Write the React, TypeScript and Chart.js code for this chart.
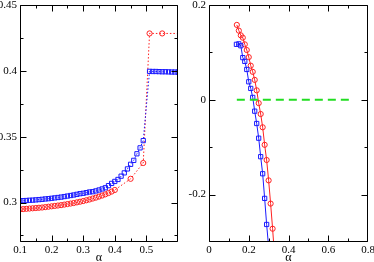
import React, { useEffect, useRef } from "react";
import { Chart, registerables } from "chart.js";
Chart.register(...registerables);

// ---------- Left panel data ----------
const leftRedAlpha = [
  0.1, 0.11, 0.12, 0.13, 0.14, 0.15, 0.16, 0.17, 0.18, 0.19, 0.2, 0.21, 0.22, 0.23, 0.24, 0.25,
  0.26, 0.27, 0.28, 0.29, 0.3, 0.31, 0.32, 0.33, 0.34, 0.35, 0.36, 0.37, 0.38, 0.39, 0.4,
  0.45, 0.49, 0.51, 0.55, 0.6,
];
const leftRedValue = [
  0.2948, 0.295, 0.2952, 0.2954, 0.2956, 0.2958, 0.296, 0.2962, 0.2965, 0.2968, 0.2971, 0.2974,
  0.2977, 0.298, 0.2984, 0.2988, 0.2992, 0.2996, 0.3001, 0.3006, 0.3011, 0.3017, 0.3023, 0.303,
  0.3037, 0.3045, 0.3053, 0.3062, 0.3072, 0.3083, 0.3095,
  0.318, 0.33, 0.4284, 0.4284, 0.4284,
];
const leftBlueAlpha = [
  0.1, 0.11, 0.12, 0.13, 0.14, 0.15, 0.16, 0.17, 0.18, 0.19, 0.2, 0.21, 0.22, 0.23, 0.24, 0.25,
  0.26, 0.27, 0.28, 0.29, 0.3, 0.31, 0.32, 0.33, 0.34, 0.35, 0.36, 0.37, 0.38, 0.39, 0.4, 0.41,
  0.42, 0.43, 0.44, 0.45, 0.46, 0.47, 0.48, 0.49,
  0.51, 0.52, 0.53, 0.54, 0.55, 0.56, 0.57, 0.58, 0.59, 0.6,
];
const leftBlueValue = [
  0.3013, 0.3014, 0.3015, 0.3017, 0.3018, 0.302, 0.3022, 0.3024, 0.3027, 0.3029, 0.3032, 0.3035,
  0.3038, 0.3041, 0.3045, 0.3049, 0.3053, 0.3057, 0.3062, 0.3067, 0.307, 0.3075, 0.308, 0.3082,
  0.3088, 0.3095, 0.3103, 0.3112, 0.3128, 0.3145, 0.316, 0.3175, 0.32, 0.3225, 0.3255, 0.329,
  0.332, 0.337, 0.3415, 0.347,
  0.3996, 0.3995, 0.3995, 0.3994, 0.3993, 0.3993, 0.3992, 0.3991, 0.3991, 0.399,
];

// ---------- Right panel data ----------
const rightRedAlpha = [
  0.14, 0.15, 0.16, 0.17, 0.18, 0.19, 0.2, 0.21, 0.22, 0.23, 0.24, 0.25, 0.26, 0.27, 0.28, 0.29,
  0.3, 0.31, 0.32, 0.33,
];
const rightRedValue = [
  0.158, 0.146, 0.136, 0.131, 0.117, 0.105, 0.09, 0.072, 0.059, 0.042, 0.02, -0.007, -0.03,
  -0.058, -0.095, -0.127, -0.17, -0.219, -0.272, -0.33,
];
const rightBlueAlpha = [
  0.138, 0.15, 0.16, 0.17, 0.18, 0.19, 0.2, 0.21, 0.22, 0.23, 0.24, 0.25, 0.26, 0.27, 0.28, 0.29,
  0.3,
];
const rightBlueValue = [
  0.117, 0.118, 0.114, 0.089, 0.081, 0.064, 0.038, 0.024, 0.005, -0.024, -0.05, -0.081, -0.12,
  -0.156, -0.208, -0.263, -0.31,
];
const rightGreenAlpha = [0.14, 0.71];
const rightGreenValue = [0, 0];

// ---------- Axes / ticks ----------
const leftXRange = [0.1, 0.6];
const leftYRange = [0.27, 0.45];
const leftXMajor = [0.1, 0.2, 0.3, 0.4, 0.5, 0.6];
const leftXMinor = [0.15, 0.25, 0.35, 0.45, 0.55];
const leftXLabels = ["0.1", "0.2", "0.3", "0.4", "0.5"];
const leftYMajor = [0.3, 0.35, 0.4, 0.45];
const leftYMinor = [0.275, 0.325, 0.375, 0.425];
const leftYLabels = ["0.3", "0.35", "0.4", "0.45"];

const rightXRange = [0, 0.8];
const rightYRange = [-0.3, 0.2];
const rightXMajor = [0, 0.2, 0.4, 0.6, 0.8];
const rightXMinor = [0.1, 0.3, 0.5, 0.7];
const rightXLabels = ["0", "0.2", "0.4", "0.6", "0.8"];
const rightYMajor = [-0.2, 0, 0.2];
const rightYMinor = [-0.3, -0.1, 0.1];
const rightYLabels = ["-0.2", "0", "0.2"];

const axisTitle = "α";

const RED = "#ff2020";
const BLUE = "#1a1aff";
const GREEN = "#22dd22";
const FONT = '"Liberation Serif", "Times New Roman", serif';

const pts = (xs: number[], ys: number[]) => xs.map((x, i) => ({ x, y: ys[i] }));

type FrameCfg = {
  xMajor: number[];
  xMinor: number[];
  yMajor: number[];
  yMinor: number[];
  xLabels: string[];
  yLabels: string[];
  title: string;
};

function framePlugin(cfg: FrameCfg) {
  return {
    id: "frame",
    afterDraw(chart: any) {
      const { ctx, chartArea } = chart;
      const { left, right, top, bottom } = chartArea;
      const xs = chart.scales.x;
      const ys = chart.scales.y;
      ctx.save();
      ctx.strokeStyle = "#000";
      ctx.lineWidth = 1;
      const L = left + 0.5;
      const R = right - 0.5;
      const T = top + 0.5;
      const B = bottom - 0.5;
      ctx.beginPath();
      ctx.rect(L, T, R - L, B - T);
      ctx.stroke();
      const xTick = (v: number, len: number) => {
        const p = Math.round(xs.getPixelForValue(v)) + 0.5;
        const px = Math.min(Math.max(p, L), R);
        ctx.beginPath();
        ctx.moveTo(px, B);
        ctx.lineTo(px, B - len);
        ctx.moveTo(px, T);
        ctx.lineTo(px, T + len);
        ctx.stroke();
      };
      const yTick = (v: number, len: number) => {
        const p = Math.round(ys.getPixelForValue(v)) + 0.5;
        const py = Math.min(Math.max(p, T), B);
        ctx.beginPath();
        ctx.moveTo(L, py);
        ctx.lineTo(L + len, py);
        ctx.moveTo(R, py);
        ctx.lineTo(R - len, py);
        ctx.stroke();
      };
      cfg.xMajor.forEach((v) => xTick(v, 6));
      cfg.xMinor.forEach((v) => xTick(v, 3));
      cfg.yMajor.forEach((v) => yTick(v, 6));
      cfg.yMinor.forEach((v) => yTick(v, 3));

      ctx.fillStyle = "#000";
      ctx.font = `11px ${FONT}`;
      ctx.textAlign = "center";
      ctx.textBaseline = "alphabetic";
      cfg.xLabels.forEach((s) => {
        ctx.fillText(s, xs.getPixelForValue(parseFloat(s)), bottom + 11);
      });
      ctx.textAlign = "right";
      ctx.textBaseline = "middle";
      cfg.yLabels.forEach((s) => {
        ctx.fillText(s, left - 3, ys.getPixelForValue(parseFloat(s)));
      });
      ctx.font = `12px ${FONT}`;
      ctx.textAlign = "center";
      ctx.textBaseline = "alphabetic";
      ctx.fillText(cfg.title, (left + right) / 2, bottom + 19);
      ctx.restore();
    },
  };
}

function baseScales(xr: number[], yr: number[]) {
  return {
    x: { type: "linear", min: xr[0], max: xr[1], display: false },
    y: { type: "linear", min: yr[0], max: yr[1], display: false },
  };
}

export default function App() {
  const leftRef = useRef<HTMLCanvasElement>(null);
  const rightRef = useRef<HTMLCanvasElement>(null);

  useEffect(() => {
    const left = new Chart(leftRef.current as HTMLCanvasElement, {
      type: "line",
      data: {
        datasets: [
          {
            data: pts(leftBlueAlpha, leftBlueValue),
            borderColor: BLUE,
            borderWidth: 1,
            borderDash: [1.5, 2],
            pointStyle: "rect",
            pointRadius: 3.0,
            pointBorderColor: BLUE,
            pointBackgroundColor: "rgba(0,0,0,0)",
            pointBorderWidth: 1,
            tension: 0,
          },
          {
            data: pts(leftRedAlpha, leftRedValue),
            borderColor: RED,
            borderWidth: 1,
            borderDash: [1.5, 2],
            pointStyle: "circle",
            pointRadius: (c: any) => (c.raw && c.raw.x >= 0.6 ? 0 : 2.6),
            pointBorderColor: RED,
            pointBackgroundColor: "rgba(0,0,0,0)",
            pointBorderWidth: 1,
            tension: 0,
          },
        ],
      } as any,
      options: {
        responsive: false,
        animation: false,
        parsing: false,
        layout: { padding: { left: 20, right: 7, top: 4, bottom: 20 } },
        plugins: { legend: { display: false }, tooltip: { enabled: false } },
        scales: baseScales(leftXRange, leftYRange) as any,
      } as any,
      plugins: [
        framePlugin({
          xMajor: leftXMajor,
          xMinor: leftXMinor,
          yMajor: leftYMajor,
          yMinor: leftYMinor,
          xLabels: leftXLabels,
          yLabels: leftYLabels,
          title: axisTitle,
        }),
      ],
    });

    const right = new Chart(rightRef.current as HTMLCanvasElement, {
      type: "line",
      data: {
        datasets: [
          {
            data: pts(rightGreenAlpha, rightGreenValue),
            borderColor: GREEN,
            borderWidth: 2,
            borderDash: [8, 5],
            pointRadius: 0,
          },
          {
            data: pts(rightBlueAlpha, rightBlueValue),
            borderColor: BLUE,
            borderWidth: 1,
            pointStyle: "rect",
            pointRadius: 3.0,
            pointBorderColor: BLUE,
            pointBackgroundColor: "rgba(0,0,0,0)",
            pointBorderWidth: 1,
            tension: 0,
          },
          {
            data: pts(rightRedAlpha, rightRedValue),
            borderColor: RED,
            borderWidth: 1,
            pointStyle: "circle",
            pointRadius: 2.6,
            pointBorderColor: RED,
            pointBackgroundColor: "rgba(0,0,0,0)",
            pointBorderWidth: 1,
            tension: 0,
          },
        ],
      } as any,
      options: {
        responsive: false,
        animation: false,
        parsing: false,
        layout: { padding: { left: 24, right: 6, top: 4, bottom: 20 } },
        plugins: { legend: { display: false }, tooltip: { enabled: false } },
        scales: baseScales(rightXRange, rightYRange) as any,
      } as any,
      plugins: [
        framePlugin({
          xMajor: rightXMajor,
          xMinor: rightXMinor,
          yMajor: rightYMajor,
          yMinor: rightYMinor,
          xLabels: rightXLabels,
          yLabels: rightYLabels,
          title: axisTitle,
        }),
      ],
    });

    return () => {
      left.destroy();
      right.destroy();
    };
  }, []);

  return (
    <div
      style={{
        position: "absolute",
        left: 0,
        top: 0,
        width: 374,
        height: 262,
        background: "#fff",
        overflow: "hidden",
      }}
    >
      <canvas
        ref={leftRef}
        width={185}
        height={262}
        style={{ position: "absolute", left: 0, top: 0, width: 185, height: 262 }}
      />
      <canvas
        ref={rightRef}
        width={189}
        height={262}
        style={{ position: "absolute", left: 185, top: 0, width: 189, height: 262 }}
      />
    </div>
  );
}
